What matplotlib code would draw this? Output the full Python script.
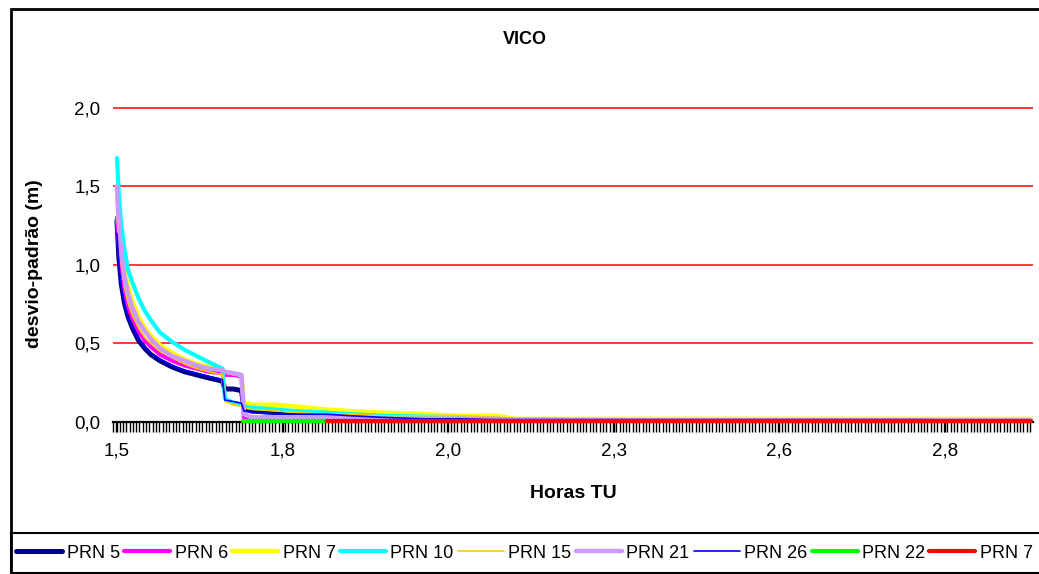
import matplotlib
matplotlib.use('Agg')
import numpy as np
from matplotlib import pyplot as plt
from matplotlib.patches import Rectangle

plt.rcParams['font.family'] = ['Liberation Sans', 'DejaVu Sans']

# time (hours UT) shared by the main PRN series
hours = [1.500, 1.503, 1.507, 1.512, 1.518, 1.525, 1.535, 1.545, 1.555, 1.570,
         1.590, 1.610, 1.630, 1.650, 1.672, 1.676, 1.690, 1.703, 1.707, 1.720,
         1.760, 1.790, 1.840, 1.880, 1.930, 2.000, 2.060, 2.120, 2.150, 2.400,
         2.600, 2.800, 2.990]

prn5 = [1.28, 1.05, 0.88, 0.76, 0.67, 0.60, 0.52, 0.47, 0.43, 0.39,
        0.35, 0.32, 0.30, 0.28, 0.26, 0.21, 0.21, 0.20, 0.09, 0.07,
        0.06, 0.06, 0.05, 0.04, 0.03, 0.03, 0.025, 0.02, 0.015, 0.015,
        0.012, 0.01, 0.01]
prn6 = [1.30, 1.12, 0.97, 0.84, 0.74, 0.66, 0.58, 0.52, 0.48, 0.43,
        0.39, 0.36, 0.34, 0.32, 0.31, 0.30, 0.30, 0.29, 0.03, 0.02,
        0.02, 0.02, 0.02, 0.02, 0.02, 0.02, 0.015, 0.01, 0.01, 0.01,
        0.01, 0.01, 0.01]
prn7 = [1.45, 1.28, 1.12, 0.97, 0.86, 0.77, 0.67, 0.60, 0.55, 0.49,
        0.44, 0.40, 0.37, 0.35, 0.33, 0.32, 0.31, 0.30, 0.12, 0.11,
        0.11, 0.10, 0.08, 0.07, 0.06, 0.05, 0.04, 0.04, 0.02, 0.02,
        0.02, 0.02, 0.02]
prn10 = [1.68, 1.45, 1.25, 1.10, 0.97, 0.89, 0.79, 0.71, 0.65, 0.57,
         0.51, 0.46, 0.42, 0.38, 0.34, 0.15, 0.12, 0.11, 0.10, 0.09,
         0.08, 0.07, 0.06, 0.05, 0.04, 0.035, 0.03, 0.02, 0.015, 0.01,
         0.01, 0.01, 0.01]
prn15 = [1.35, 1.15, 1.00, 0.86, 0.76, 0.68, 0.60, 0.54, 0.50, 0.45,
         0.41, 0.37, 0.34, 0.32, 0.30, 0.13, 0.11, 0.10, 0.09, 0.08,
         0.07, 0.06, 0.05, 0.05, 0.04, 0.04, 0.04, 0.03, 0.02, 0.02,
         0.02, 0.02, 0.02]
prn21 = [1.50, 1.25, 1.08, 0.93, 0.82, 0.73, 0.64, 0.58, 0.53, 0.47,
         0.42, 0.39, 0.36, 0.34, 0.33, 0.32, 0.31, 0.30, 0.05, 0.03,
         0.03, 0.03, 0.03, 0.03, 0.02, 0.02, 0.02, 0.02, 0.015, 0.01,
         0.01, 0.01, 0.01]
prn26 = [1.20, 1.00, 0.86, 0.75, 0.66, 0.60, 0.53, 0.48, 0.44, 0.40,
         0.36, 0.33, 0.31, 0.29, 0.27, 0.14, 0.13, 0.12, 0.07, 0.06,
         0.05, 0.05, 0.05, 0.04, 0.03, 0.02, 0.02, 0.015, 0.015, 0.015,
         0.015, 0.015, 0.01]

# short series at the end
prn22_hours = [1.705, 1.740, 1.780, 1.842]
prn22 = [0.006, 0.006, 0.006, 0.006]
prn7b_hours = [1.842, 2.200, 2.600, 2.990]
prn7b = [0.006, 0.006, 0.006, 0.006]

tick_pos = [1.50, 1.77, 2.04, 2.31, 2.58, 2.85]
tick_labels = ['1,5', '1,8', '2,0', '2,3', '2,6', '2,8']
y_ticks = [0.0, 0.5, 1.0, 1.5, 2.0]
y_labels = ['0,0', '0,5', '1,0', '1,5', '2,0']

W, H = 1039, 574
fig = plt.figure(figsize=(W / 100, H / 100), dpi=100)
ax = fig.add_axes([113 / W, 1 - 422 / H, (1033 - 113) / W, (422 - 107) / H])

series = [
    (hours, prn5, 'PRN 5', '#000080', 3.6),
    (hours, prn6, 'PRN 6', '#FF00FF', 3.0),
    (hours, prn7, 'PRN 7', '#FFFF00', 3.2),
    (hours, prn10, 'PRN 10', '#00FFFF', 3.0),
    (hours, prn15, 'PRN 15', '#FFCC00', 1.2),
    (hours, prn21, 'PRN 21', '#CC99FF', 3.2),
    (hours, prn26, 'PRN 26', '#0000FF', 1.2),
    (prn22_hours, prn22, 'PRN 22', '#00FF00', 3.0),
    (prn7b_hours, prn7b, 'PRN 7', '#FF0000', 3.0),
]
handles = []
for x, y, lab, col, lw in series:
    ln, = ax.plot(x, y, color=col, lw=lw, label=lab, zorder=3,
                  solid_capstyle='round', solid_joinstyle='round', clip_on=False)
    handles.append(ln)

ax.set_xlim(1.4935, 2.994)
ax.set_ylim(0, 2.005)
ax.set_yticks(y_ticks)
ax.set_yticklabels(y_labels)
ax.set_xticks(tick_pos)
ax.set_xticklabels(tick_labels)
ax.set_xticks(np.arange(1.4935, 2.994, 0.27 / 50), minor=True)
ax.tick_params(axis='x', which='both', length=7, width=1, color='black',
               direction='out', pad=8, labelsize=13.5)
ax.tick_params(axis='y', length=0, pad=9, labelsize=13.5)
ax.yaxis.grid(True, color='red', lw=1.1)
ax.set_axisbelow(True)
for s in ['left', 'right', 'top']:
    ax.spines[s].set_visible(False)
ax.spines['bottom'].set_linewidth(1.6)
ax.spines['bottom'].set_zorder(2.5)

fig.text(525 / W, 1 - 40 / H, 'VICO', ha='center', va='center',
         fontsize=13, fontweight='bold')
fig.text(573 / W, 1 - 493 / H, 'Horas TU', ha='center', va='center',
         fontsize=14, fontweight='bold')
fig.text(35 / W, 1 - 264 / H, 'desvio-padrão (m)', ha='center', va='center',
         rotation=90, fontsize=14, fontweight='bold')

# chart border and legend box (cut off on the right like the original)
fig.add_artist(Rectangle((11 / W, -0.1), 1.2, 1 - 9 / H + 0.1,
                         transform=fig.transFigure, fill=False,
                         lw=2, edgecolor='black'))
fig.add_artist(Rectangle((11 / W, 1 - 573 / H), 1.2, 40 / H,
                         transform=fig.transFigure, fill=False,
                         lw=1.5, edgecolor='black'))

fig.legend(handles=handles, loc='center left',
           bbox_to_anchor=(11 / W, 1 - 553 / H), ncol=9, frameon=False,
           handlelength=2.55, handletextpad=0.24, columnspacing=0.24,
           borderpad=0.3, borderaxespad=0, fontsize=13)

fig.savefig('out.png', dpi=100)
